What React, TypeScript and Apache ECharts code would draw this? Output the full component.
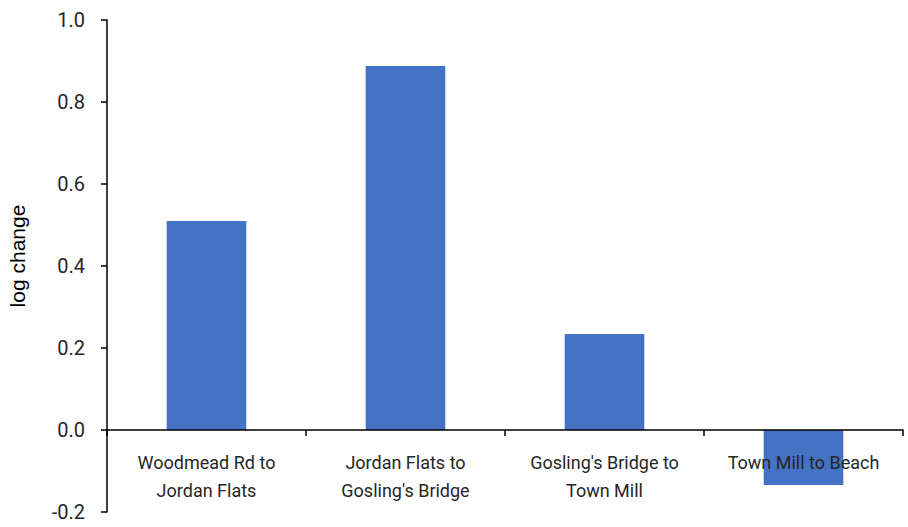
import React, { useEffect, useRef } from "react";
import * as echarts from "echarts";

const categories = [
  "Woodmead Rd to\nJordan Flats",
  "Jordan Flats to\nGosling's Bridge",
  "Gosling's Bridge to\nTown Mill",
  "Town Mill to Beach",
];
const logChange = [0.51, 0.888, 0.234, -0.134];
const yTicks = { min: -0.2, max: 1.0, interval: 0.2 };

const FONT = "'Liberation Sans Narrow', 'Roboto', 'Liberation Sans', sans-serif";

export default function App() {
  const ref = useRef<HTMLDivElement>(null);
  useEffect(() => {
    document.body.style.margin = "0";
    if (!ref.current) return;
    const chart = echarts.init(ref.current, undefined, { renderer: "svg" });
    chart.setOption({
      animation: false,
      backgroundColor: "#ffffff",
      grid: {
        left: 107,
        right: 5,
        top: 20,
        bottom: 15,
        containLabel: false,
        outerBoundsMode: "none",
      },
      xAxis: {
        type: "category",
        data: categories,
        z: 5,
        axisLine: { onZero: true, lineStyle: { color: "#000", width: 1.5 } },
        axisTick: { show: true, length: 6, lineStyle: { color: "#000", width: 1.5 } },
        axisLabel: {
          color: "#262626",
          fontSize: 18,
          lineHeight: 28,
          margin: -64,
          fontFamily: FONT,
          interval: 0,
        },
      },
      yAxis: {
        type: "value",
        min: yTicks.min,
        max: yTicks.max,
        interval: yTicks.interval,
        name: "log change",
        nameLocation: "middle",
        nameGap: 79,
        nameTextStyle: {
          color: "#000",
          fontSize: 21,
          fontFamily: "'Liberation Sans', Arial, sans-serif",
          padding: [0, 0, 0, 20],
        },
        axisLine: { show: true, lineStyle: { color: "#000", width: 1.5 } },
        axisTick: { show: true, length: 6, lineStyle: { color: "#000", width: 1.5 } },
        splitLine: { show: false },
        axisLabel: {
          color: "#262626",
          fontSize: 20,
          margin: 22,
          fontFamily: FONT,
          formatter: (v: number) => v.toFixed(1),
        },
      },
      series: [
        {
          type: "bar",
          data: logChange,
          barCategoryGap: "60%",
          itemStyle: { color: "#4472C4" },
        },
      ],
    });
    return () => chart.dispose();
  }, []);
  return <div ref={ref} style={{ width: 908, height: 527 }} />;
}
